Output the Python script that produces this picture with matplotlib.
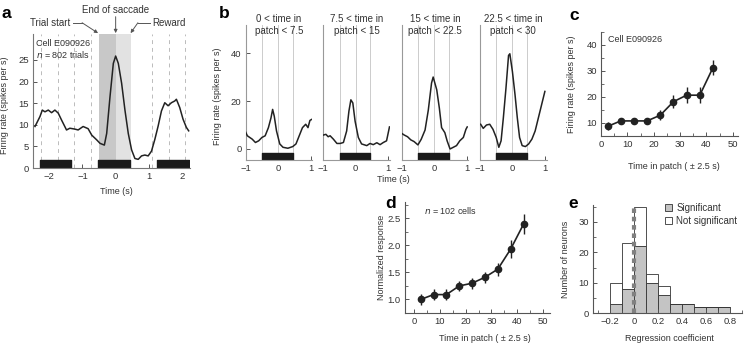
import numpy as np
import matplotlib
matplotlib.use('Agg')
import matplotlib.pyplot as plt
from matplotlib.patches import Patch
from matplotlib.ticker import MultipleLocator

plt.rcParams['font.family'] = ['Liberation Sans', 'DejaVu Sans']
plt.rcParams['font.size'] = 6.5
plt.rcParams['text.color'] = '#333333'
plt.rcParams['axes.labelcolor'] = '#333333'
plt.rcParams['xtick.color'] = '#555555'
plt.rcParams['ytick.color'] = '#555555'
plt.rcParams['xtick.labelcolor'] = '#333333'
plt.rcParams['ytick.labelcolor'] = '#333333'

# ---- data ----
# panel a: firing rate around saccade
a_time = [-2.43, -2.28, -2.21, -2.13, -2.03, -1.93, -1.83, -1.73, -1.63, -1.48, -1.38,
          -1.23, -1.13, -0.98, -0.83, -0.72, -0.57, -0.47, -0.34, -0.27, -0.17, -0.07,
          0.0, 0.08, 0.18, 0.28, 0.38, 0.48, 0.58, 0.68, 0.78, 0.88, 0.98, 1.08, 1.18,
          1.28, 1.38, 1.48, 1.58, 1.68, 1.78, 1.83, 1.93, 2.03, 2.13, 2.2]
a_rate = [9.6, 11.9, 13.4, 13.0, 13.4, 12.8, 13.4, 12.7, 11.1, 8.8, 9.2,
          9.0, 8.8, 9.6, 9.1, 7.6, 6.5, 5.7, 5.3, 8.0, 16.5, 24.2,
          25.9, 24.2, 19.6, 13.4, 8.0, 4.2, 2.2, 2.0, 2.8, 3.0, 2.8, 3.9, 6.6,
          9.7, 13.2, 15.1, 14.4, 15.1, 15.5, 15.9, 14.0, 11.3, 9.4, 8.6]
a_bars = [(-2.28, -1.35), (-0.52, 0.44), (1.26, 2.2)]
a_dashes = [-2.25, -1.75, -1.25, -0.75, 1.1, 1.6, 2.1]

# panel b: four time-in-patch bins
b_titles = ['0 < time in\npatch < 7.5', '7.5 < time in\npatch < 15',
            '15 < time in\npatch < 22.5', '22.5 < time in\npatch < 30']
b_time = [
    [-1.0, -0.95, -0.8, -0.7, -0.6, -0.5, -0.4, -0.3, -0.22, -0.17, -0.12, -0.05, 0.05,
     0.15, 0.3, 0.45, 0.55, 0.65, 0.75, 0.85, 0.92, 0.98, 1.03],
    [-1.0, -0.92, -0.85, -0.79, -0.69, -0.58, -0.48, -0.38, -0.28, -0.21, -0.15, -0.09,
     -0.02, 0.08, 0.18, 0.34, 0.44, 0.54, 0.65, 0.75, 0.85, 0.95, 1.04],
    [-1.0, -0.92, -0.82, -0.72, -0.62, -0.5, -0.4, -0.28, -0.18, -0.08, -0.03, 0.08,
     0.16, 0.23, 0.33, 0.4, 0.49, 0.59, 0.69, 0.79, 0.9, 0.98, 1.02],
    [-0.98, -0.9, -0.8, -0.7, -0.6, -0.5, -0.42, -0.35, -0.28, -0.2, -0.12, -0.08, 0.0,
     0.08, 0.15, 0.22, 0.3, 0.4, 0.5, 0.6, 0.7, 0.8, 0.9, 1.0],
]
b_rate = [
    [7.0, 5.5, 4.1, 2.7, 3.4, 4.8, 5.5, 8.9, 13.0, 16.5, 13.7, 7.5, 2.1,
     0.7, 0.3, 1.0, 2.1, 5.5, 8.9, 10.3, 8.9, 11.9, 12.3],
    [5.8, 6.1, 5.1, 5.5, 4.1, 2.3, 2.3, 2.7, 7.5, 15.8, 20.5, 19.2,
     11.6, 4.8, 2.1, 1.4, 2.3, 1.8, 2.6, 1.8, 2.7, 3.4, 9.2],
    [6.5, 5.8, 5.1, 3.8, 3.1, 1.7, 4.0, 7.9, 16.2, 27.5, 30.0, 24.7,
     17.1, 8.9, 6.8, 3.4, 0.0, 0.7, 1.4, 3.4, 4.8, 8.2, 9.2],
    [10.3, 8.6, 10.0, 10.3, 8.2, 4.8, 0.7, 3.4, 13.0, 25.3, 39.0, 39.7, 32.2,
     22.6, 13.0, 4.8, 1.4, 1.0, 2.1, 4.1, 7.5, 13.0, 18.5, 24.0],
]

# panels c and d: response vs time in patch
patch_time = [2.5, 7.5, 12.5, 17.5, 22.5, 27.5, 32.5, 37.5, 42.5]
c_rate = [8.7, 10.8, 10.8, 10.8, 13.0, 18.2, 20.7, 20.7, 31.3]
c_err = [1.5, 1.2, 1.2, 1.2, 2.0, 2.5, 3.0, 3.0, 3.0]
d_resp = [1.0, 1.09, 1.09, 1.25, 1.30, 1.41, 1.56, 1.93, 2.39]
d_err = [0.1, 0.1, 0.1, 0.1, 0.1, 0.1, 0.12, 0.17, 0.18]

# panel e: histogram of regression coefficients
e_left = [-0.2, -0.1, 0.0, 0.1, 0.2, 0.3, 0.4, 0.5, 0.6, 0.7]
e_sig = [3, 8, 22, 10, 6, 3, 3, 2, 2, 2]
e_total = [10, 23, 35, 13, 9, 3, 3, 2, 2, 2]

# ---- figure ----
W, H = 750, 346
fig = plt.figure(figsize=(W / 100, H / 100), dpi=100)


def axes_px(left, top, right, bottom):
    return fig.add_axes([left / W, 1 - bottom / H, (right - left) / W, (bottom - top) / H])


def style(ax, spine_col='#777777'):
    for s in ['top', 'right']:
        ax.spines[s].set_visible(False)
    for s in ['left', 'bottom']:
        ax.spines[s].set_color(spine_col)
        ax.spines[s].set_linewidth(0.8)
    ax.tick_params(direction='in', length=3, width=0.7, labelsize=6.8, pad=3)
    ax.tick_params(which='minor', direction='in', length=2, width=0.6)


def letter(x, y, s):
    fig.text(x / W, 1 - y / H, s, fontsize=12.5, fontweight='bold', color='black',
             ha='center', va='center')


trace_col = '#222222'

# panel a
ax = axes_px(33, 34, 190, 168)
style(ax)
ax.set_xlim(-2.49, 2.24)
ax.set_ylim(0, 31)
ax.axvspan(-0.5, 0, color='#c8c8c8', lw=0, zorder=0)
ax.axvspan(0, 0.45, color='#e2e2e2', lw=0, zorder=0)
for d in a_dashes:
    ax.axvline(d, color='#bbbbbb', lw=0.7, ls=(0, (4, 4)), zorder=0)
ax.broken_barh([(s, e - s) for s, e in a_bars], (0, 1.9), color='#1a1a1a', zorder=2)
ax.plot(a_time, a_rate, color=trace_col, lw=1.1, zorder=3)
ax.set_xticks([-2, -1, 0, 1, 2])
ax.set_yticks([0, 5, 10, 15, 20, 25])
ax.set_xticklabels(['\u22122', '\u22121', '0', '1', '2'])
ax.set_xlabel('Time (s)')
ax.xaxis.set_label_coords(0.53, -0.14)
ax.set_ylabel('Firing rate (spikes per s)')
ax.yaxis.set_label_coords(-0.15, 0.47)
ax.text(0.02, 0.96, 'Cell E090926', transform=ax.transAxes, ha='left', va='top')
ax.text(0.02, 0.89, '$n$ = 802 trials', transform=ax.transAxes, ha='left', va='top')
arr = dict(arrowstyle='-|>', color='#555555', lw=0.7, mutation_scale=5, shrinkA=0, shrinkB=0)
ax.plot([-1.29, -1.01], [33.6, 33.6], color='#555555', lw=0.7, clip_on=False)
ax.annotate('', xy=(-0.53, 31.2), xytext=(-1.01, 33.6), arrowprops=arr, annotation_clip=False)
ax.text(-1.36, 33.6, 'Trial start', ha='right', va='center', fontsize=7)
ax.annotate('', xy=(0, 31.2), xytext=(0, 35.0), arrowprops=arr, annotation_clip=False)
ax.text(0, 36.6, 'End of saccade', ha='center', va='center', fontsize=7)
ax.plot([0.67, 1.03], [33.6, 33.6], color='#555555', lw=0.7, clip_on=False)
ax.annotate('', xy=(0.45, 31.2), xytext=(0.67, 33.6), arrowprops=arr, annotation_clip=False)
ax.text(1.1, 33.6, 'Reward', ha='left', va='center', fontsize=7)
letter(6, 14, 'a')

# panel b
b_lefts = [245.7, 323.3, 401.7, 480.0]
for i, l in enumerate(b_lefts):
    ax = axes_px(l, 25, l + 66.5, 160)
    style(ax, '#999999')
    ax.set_xlim(-1.0, 1.05)
    ax.set_ylim(-4.6, 51.7)
    for v in [-0.5, 0, 0.45]:
        ax.axvline(v, color='#cccccc', lw=0.7, zorder=0)
    ax.broken_barh([(-0.5, 0.95)], (-4.6, 3.1), color='#1a1a1a', zorder=2)
    ax.plot(b_time[i], b_rate[i], color=trace_col, lw=1.1, zorder=3)
    ax.set_xticks([-1, 0, 1])
    ax.set_xticklabels(['\u22121', '0', '1'])
    ax.set_yticks([0, 20, 40])
    if i == 0:
        ax.set_ylabel('Firing rate (spikes per s)')
        ax.yaxis.set_label_coords(-0.35, 0.47)
    else:
        ax.set_yticklabels([])
        ax.tick_params(axis='y', length=0)
    ax.text(0.5, 1.0, b_titles[i], transform=ax.transAxes, ha='center', va='center',
            linespacing=1.15, fontsize=7)
fig.text(393 / W, 1 - 180 / H, 'Time (s)', ha='center', va='center')
letter(224, 14, 'b')

# panel c
ax = axes_px(601, 32, 738, 136)
style(ax, '#555555')
ax.set_xlim(0, 52)
ax.set_ylim(5, 45)
ax.errorbar(patch_time, c_rate, yerr=c_err, color=trace_col, lw=1.2, marker='o', ms=4.5,
            elinewidth=1.0, capsize=0)
ax.xaxis.set_major_locator(MultipleLocator(10))
ax.xaxis.set_minor_locator(MultipleLocator(5))
ax.set_yticks([10, 20, 30, 40])
ax.yaxis.set_minor_locator(MultipleLocator(5))
ax.set_xlabel('Time in patch ( \u00b1 2.5 s)')
ax.xaxis.set_label_coords(0.53, -0.25)
ax.set_ylabel('Firing rate (spikes per s)')
ax.yaxis.set_label_coords(-0.18, 0.5)
ax.text(0.05, 0.97, 'Cell E090926', transform=ax.transAxes, ha='left', va='top')
letter(574, 16, 'c')

# panel d
ax = axes_px(405, 202, 550, 313)
style(ax, '#555555')
ax.set_xlim(-3.6, 52.8)
ax.set_ylim(0.75, 2.8)
ax.errorbar(patch_time, d_resp, yerr=d_err, color=trace_col, lw=1.2, marker='o', ms=4.5,
            elinewidth=1.0, capsize=0)
ax.xaxis.set_major_locator(MultipleLocator(10))
ax.xaxis.set_minor_locator(MultipleLocator(5))
ax.set_yticks([1.0, 1.5, 2.0, 2.5])
ax.yaxis.set_minor_locator(MultipleLocator(0.25))
ax.set_xlabel('Time in patch ( \u00b1 2.5 s)')
ax.xaxis.set_label_coords(0.55, -0.19)
ax.set_ylabel('Normalized response')
ax.yaxis.set_label_coords(-0.13, 0.5)
ax.text(0.13, 0.97, '$n$ = 102 cells', transform=ax.transAxes, ha='left', va='top')
letter(391, 204, 'd')

# panel e
ax = axes_px(593.3, 205, 741.7, 313.3)
style(ax, '#555555')
ax.set_xlim(-0.34, 0.9)
ax.set_ylim(0, 35.5)
e_non = [t - s for t, s in zip(e_total, e_sig)]
ax.bar(e_left, e_sig, width=0.1, align='edge', color='#c4c4c4', edgecolor='#333333', lw=0.6)
ax.bar(e_left, e_non, width=0.1, bottom=e_sig, align='edge', color='white',
       edgecolor='#333333', lw=0.6)
ax.plot([0, 0], [0, 35], color='#808080', lw=3.0, ls=(0, (1.1, 0.9)), solid_capstyle='butt')
ax.set_xticks([-0.2, 0, 0.2, 0.4, 0.6, 0.8])
ax.set_xticklabels(['\u22120.2', '0', '0.2', '0.4', '0.6', '0.8'])
ax.xaxis.set_minor_locator(MultipleLocator(0.1))
ax.set_yticks([0, 10, 20, 30])
ax.yaxis.set_minor_locator(MultipleLocator(5))
ax.set_xlabel('Regression coefficient')
ax.xaxis.set_label_coords(0.51, -0.19)
ax.set_ylabel('Number of neurons')
ax.yaxis.set_label_coords(-0.16, 0.5)
handles = [Patch(facecolor='#c4c4c4', edgecolor='#333333', lw=0.6, label='Significant'),
           Patch(facecolor='white', edgecolor='#333333', lw=0.6, label='Not significant')]
ax.legend(handles=handles, loc='upper left', bbox_to_anchor=(0.48, 1.02), frameon=False,
          handlelength=0.8, handleheight=0.8, handletextpad=0.4, labelspacing=0.3,
          borderpad=0, borderaxespad=0, fontsize=7)
letter(573, 204, 'e')

fig.savefig('out.png', dpi=100)
